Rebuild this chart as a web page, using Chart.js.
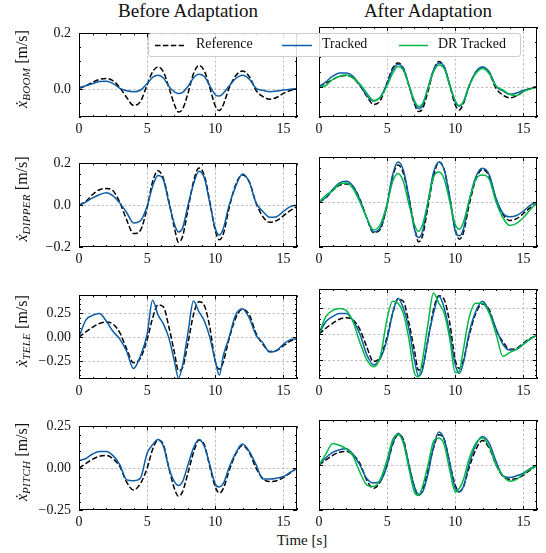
<!DOCTYPE html>
<html>
<head>
<meta charset="utf-8">
<script src="https://cdn.jsdelivr.net/npm/chart.js"></script>
<style>
  body { margin: 0; background: #fff; width: 546px; height: 553px; overflow: hidden; position: relative;
         font-family: "Liberation Serif", "DejaVu Serif", serif; color: #111; }
  canvas { position: absolute; }
  .title { position: absolute; top: 0; font-size: 19px; white-space: nowrap; transform: translateX(-50%); }
  .ylab { position: absolute; font-size: 16px; white-space: nowrap; transform: translate(-50%, -50%) rotate(-90deg); }
  .ylab sub { font-size: 11px; font-style: italic; vertical-align: -3px; letter-spacing: 0.3px; }
  #xlab { position: absolute; left: 302px; top: 532px; font-size: 15px; transform: translateX(-50%); }
  #legend { position: absolute; left: 148px; top: 33px; width: 371px; height: 22px; z-index: 5;
            border: 1px solid #ccc; border-radius: 3px; background: rgba(255,255,255,0.85); font-size: 14px; }
  #legend span { position: absolute; top: 2px; white-space: nowrap; }
  #legend svg { position: absolute; top: 10px; }
</style>
</head>
<body>
<div class="title" style="left:188px">Before Adaptation</div>
<div class="title" style="left:428px">After Adaptation</div>
<div id="xlab">Time [s]</div>
<div id="legend">
  <svg style="left:6px" width="29" height="3"><line x1="0" y1="1.5" x2="29" y2="1.5" stroke="#000" stroke-width="1.5" stroke-dasharray="5.5,2.4"/></svg>
  <span style="left:47px">Reference</span>
  <svg style="left:133px" width="30" height="3"><line x1="0" y1="1.5" x2="30" y2="1.5" stroke="#0C5DA5" stroke-width="1.5"/></svg>
  <span style="left:173px">Tracked</span>
  <svg style="left:250px" width="29" height="3"><line x1="0" y1="1.5" x2="29" y2="1.5" stroke="#00B945" stroke-width="1.5"/></svg>
  <span style="left:289px">DR Tracked</span>
</div>
<script>
// time axis (s), shared by every series
const time = [0, 0.5, 1, 1.5, 2, 2.5, 3, 3.5, 4, 4.5, 5, 5.4, 5.8, 6.2, 6.6, 7, 7.3, 7.6, 8, 8.4, 8.8, 9.2, 9.6, 10, 10.3, 10.6, 11, 11.5, 12, 12.5, 13, 13.5, 14, 14.5, 15, 15.5, 16];

// boom
const boomRef    = [0.003, 0.012, 0.025, 0.035, 0.038, 0.03, 0.005, -0.03, -0.058, -0.045, 0.015, 0.062, 0.08, 0.062, 0.005, -0.055, -0.082, -0.072, -0.015, 0.055, 0.085, 0.065, 0.005, -0.06, -0.077, -0.055, 0.002, 0.048, 0.065, 0.045, -0.005, -0.027, -0.036, -0.03, -0.015, -0.005, 0.002];
const boomBefore = [0.006, 0.012, 0.02, 0.027, 0.028, 0.02, 0.003, -0.006, -0.009, -0.004, 0.02, 0.042, 0.05, 0.04, 0.01, -0.01, -0.016, -0.012, 0.01, 0.04, 0.053, 0.045, 0.012, -0.02, -0.025, -0.014, 0.01, 0.038, 0.05, 0.036, 0.003, -0.004, -0.009, -0.007, -0.003, 0.0, 0.002];
const boomAfter  = [0, 0.017, 0.036, 0.047, 0.047, 0.036, 0.006, -0.028, -0.047, -0.033, 0.011, 0.056, 0.076, 0.061, 0.006, -0.05, -0.072, -0.061, -0.002, 0.056, 0.08, 0.067, 0.006, -0.05, -0.064, -0.05, 0, 0.05, 0.067, 0.05, 0.002, -0.013, -0.024, -0.02, -0.011, -0.006, 0];
const boomDR     = [0, 0.005, 0.025, 0.036, 0.04, 0.03, 0.01, -0.02, -0.045, -0.035, 0.005, 0.045, 0.068, 0.055, 0.005, -0.045, -0.065, -0.055, -0.005, 0.05, 0.073, 0.06, 0.005, -0.045, -0.062, -0.048, 0.002, 0.045, 0.062, 0.045, 0.003, -0.01, -0.025, -0.028, -0.015, -0.007, 0];

// dipper
const dipperRef    = [0, 0.018, 0.051, 0.074, 0.08, 0.069, 0.013, -0.07, -0.136, -0.121, -0.012, 0.112, 0.165, 0.127, 0.018, -0.107, -0.177, -0.15, -0.019, 0.112, 0.178, 0.142, 0.018, -0.121, -0.165, -0.136, -0.019, 0.098, 0.145, 0.112, 0.01, -0.055, -0.082, -0.074, -0.051, -0.026, -0.007];
const dipperBefore = [0, 0.015, 0.035, 0.05, 0.06, 0.045, 0.01, -0.035, -0.085, -0.075, -0.005, 0.09, 0.142, 0.12, 0.01, -0.09, -0.128, -0.11, 0.0, 0.1, 0.163, 0.13, 0.01, -0.11, -0.143, -0.11, -0.005, 0.09, 0.149, 0.11, 0.01, -0.03, -0.058, -0.055, -0.03, -0.007, 0];
const dipperAfter  = [0, 0.02, 0.055, 0.085, 0.092, 0.07, 0.01, -0.07, -0.133, -0.115, -0.01, 0.12, 0.178, 0.14, 0.02, -0.12, -0.158, -0.13, 0.0, 0.13, 0.178, 0.14, 0.02, -0.13, -0.15, -0.12, 0.0, 0.11, 0.15, 0.12, 0.015, -0.05, -0.066, -0.06, -0.04, -0.015, 0];
const dipperDR     = [0, 0.03, 0.05, 0.08, 0.085, 0.06, 0.0, -0.07, -0.124, -0.1, -0.01, 0.09, 0.127, 0.09, -0.01, -0.1, -0.131, -0.1, 0.0, 0.11, 0.133, 0.1, 0.0, -0.1, -0.121, -0.09, 0.0, 0.1, 0.12, 0.1, 0.0, -0.07, -0.104, -0.095, -0.07, -0.035, 0];

// tele
const teleRef    = [0, 0.056, 0.105, 0.144, 0.16, 0.137, 0.045, -0.124, -0.27, -0.222, -0.026, 0.2, 0.34, 0.317, 0.105, -0.157, -0.353, -0.32, -0.059, 0.235, 0.373, 0.333, 0.105, -0.255, -0.337, -0.255, -0.026, 0.2, 0.294, 0.235, 0.039, -0.075, -0.15, -0.14, -0.09, -0.042, -0.016];
const teleBefore = [0, 0.18, 0.23, 0.25, 0.17, 0.06, -0.02, -0.15, -0.33, -0.2, 0.03, 0.39, 0.235, 0.137, -0.01, -0.25, -0.43, -0.3, 0.05, 0.38, 0.27, 0.17, 0.0, -0.25, -0.4, -0.19, -0.01, 0.235, 0.3, 0.2, 0.02, -0.06, -0.157, -0.14, -0.075, -0.026, -0.016];
const teleAfter  = [0, 0.12, 0.17, 0.2, 0.2, 0.13, 0.0, -0.2, -0.3, -0.24, -0.05, 0.2, 0.35, 0.25, 0.05, -0.25, -0.41, -0.35, -0.05, 0.2, 0.37, 0.25, 0.0, -0.3, -0.385, -0.28, 0.0, 0.22, 0.32, 0.22, 0.05, -0.1, -0.157, -0.15, -0.1, -0.05, -0.01];
const teleDR     = [0, 0.17, 0.23, 0.25, 0.23, 0.12, -0.08, -0.25, -0.32, -0.22, 0.15, 0.32, 0.3, 0.2, -0.05, -0.38, -0.42, -0.25, 0.1, 0.4, 0.3, 0.2, -0.05, -0.38, -0.36, -0.15, 0.15, 0.3, 0.3, 0.2, 0.0, -0.22, -0.18, -0.15, -0.1, -0.05, -0.01];

// pitch
const pitchRef    = [0, 0.028, 0.054, 0.071, 0.076, 0.056, 0.009, -0.084, -0.13, -0.093, 0, 0.112, 0.168, 0.14, 0, -0.121, -0.168, -0.14, -0.028, 0.093, 0.168, 0.14, 0.009, -0.112, -0.149, -0.121, -0.019, 0.084, 0.136, 0.093, 0, -0.062, -0.08, -0.075, -0.056, -0.028, 0];
const pitchBefore = [0.045, 0.058, 0.085, 0.1, 0.1, 0.075, 0.02, -0.07, -0.075, -0.06, 0.09, 0.14, 0.172, 0.13, 0.0, -0.08, -0.103, -0.08, 0.02, 0.12, 0.172, 0.13, 0.02, -0.095, -0.112, -0.09, 0.0, 0.09, 0.144, 0.1, 0.02, -0.065, -0.065, -0.06, -0.05, -0.025, 0];
const pitchAfter  = [0, 0.04, 0.07, 0.085, 0.09, 0.06, 0.0, -0.075, -0.1, -0.09, 0.0, 0.12, 0.177, 0.13, 0.0, -0.12, -0.162, -0.15, -0.05, 0.1, 0.183, 0.14, 0.01, -0.13, -0.149, -0.12, 0.0, 0.11, 0.159, 0.12, 0.02, -0.06, -0.069, -0.06, -0.045, -0.02, 0];
const pitchDR     = [0, 0.06, 0.12, 0.11, 0.09, 0.05, -0.04, -0.11, -0.12, -0.08, 0.03, 0.14, 0.17, 0.12, -0.02, -0.15, -0.17, -0.12, 0.0, 0.13, 0.15, 0.11, -0.03, -0.15, -0.13, -0.08, 0.03, 0.12, 0.15, 0.1, 0.0, -0.06, -0.09, -0.08, -0.05, -0.025, 0];

// tick labels
const xTicks = [0, 5, 10, 15];
const boomTicks = [0, 0.2];
const dipperTicks = [-0.2, 0, 0.2];
const teleTicks = [-0.25, 0, 0.25];
const pitchTicks = [-0.25, 0, 0.25];

const FONT = '"Liberation Serif", "DejaVu Serif", serif';
const BLUE = '#0C5DA5', GREEN = '#00B945';

// layout of the 4x2 grid of panels
const plotLeft = [79, 319], plotW = 218, plotTop = [27, 157, 289, 420], plotH = 90;
const padL = 60, padT = 10, padR = 10, padB = 26;

// dashed grid under the lines, black frame and inward ticks over them
const framePlugin = {
    id: 'frame',
    beforeDatasetsDraw(chart) {
        const { ctx, chartArea: a, scales: { x, y } } = chart;
        ctx.save();
        ctx.strokeStyle = '#b0b0b0';
        ctx.lineWidth = 0.8;
        ctx.setLineDash([2.5, 2]);
        ctx.beginPath();
        x.ticks.forEach(t => {
            const p = Math.round(x.getPixelForValue(t.value)) + 0.5;
            if (p > a.left + 2 && p < a.right - 2) { ctx.moveTo(p, a.top); ctx.lineTo(p, a.bottom); }
        });
        y.ticks.forEach(t => {
            const p = Math.round(y.getPixelForValue(t.value)) + 0.5;
            if (p > a.top + 2 && p < a.bottom - 2) { ctx.moveTo(a.left, p); ctx.lineTo(a.right, p); }
        });
        ctx.stroke();
        ctx.restore();
    },
    afterDatasetsDraw(chart, args, opts) {
        const { ctx, chartArea: a, scales: { x, y } } = chart;
        ctx.save();
        ctx.strokeStyle = '#000';
        ctx.lineWidth = 1;
        ctx.setLineDash([]);
        ctx.beginPath();
        for (let k = Math.ceil(x.min / opts.xMinor - 1e-6); k * opts.xMinor <= x.max + 1e-6; k++) {
            const v = k * opts.xMinor;
            const len = x.ticks.some(t => Math.abs(t.value - v) < 1e-6) ? 4 : 2;
            const p = Math.round(x.getPixelForValue(v)) + 0.5;
            ctx.moveTo(p, a.bottom); ctx.lineTo(p, a.bottom - len);
            ctx.moveTo(p, a.top); ctx.lineTo(p, a.top + len);
        }
        for (let k = Math.ceil(y.min / opts.yMinor - 1e-6); k * opts.yMinor <= y.max + 1e-6; k++) {
            const v = k * opts.yMinor;
            const len = y.ticks.some(t => Math.abs(t.value - v) < 1e-6) ? 4 : 2;
            const p = Math.round(y.getPixelForValue(v)) + 0.5;
            ctx.moveTo(a.left, p); ctx.lineTo(a.left + len, p);
            ctx.moveTo(a.right, p); ctx.lineTo(a.right - len, p);
        }
        ctx.stroke();
        ctx.strokeRect(Math.round(a.left) + 0.5, Math.round(a.top) + 0.5, Math.round(a.right - a.left) - 1, Math.round(a.bottom - a.top) - 1);
        ctx.restore();
    }
};

function pts(vals) {
    return time.map((t, i) => ({ x: t, y: vals[i] }));
}

function fmt(v, dec) {
    const s = Math.abs(v).toFixed(dec);
    return v < -1e-9 ? '\u2212' + s : s;
}

function makePanel(row, col, series, yMin, yMax, yTicks, dec) {
    const cv = document.createElement('canvas');
    cv.width = plotW + padL + padR;
    cv.height = plotH + padT + padB;
    cv.style.left = (plotLeft[col] - padL) + 'px';
    cv.style.top = (plotTop[row] - padT) + 'px';
    document.body.appendChild(cv);

    const datasets = [
        { label: 'Reference', data: pts(series[0]), borderColor: '#000', borderDash: [5.5, 2.4], order: 3 },
        { label: 'Tracked', data: pts(series[1]), borderColor: BLUE, order: 2 }
    ];
    if (series[2]) datasets.push({ label: 'DR Tracked', data: pts(series[2]), borderColor: GREEN, order: 1 });

    new Chart(cv, {
        type: 'line',
        data: { datasets: datasets },
        options: {
            responsive: false,
            animation: false,
            devicePixelRatio: 1,
            layout: { padding: { left: 0, top: padT, right: padR, bottom: 0 } },
            elements: {
                point: { radius: 0 },
                line: { borderWidth: 1.5, cubicInterpolationMode: 'monotone', fill: false }
            },
            plugins: {
                legend: { display: false },
                tooltip: { enabled: false },
                frame: { xMinor: 1, yMinor: 0.05 }
            },
            scales: {
                x: {
                    type: 'linear', min: 0, max: 16,
                    afterBuildTicks: s => { s.ticks = xTicks.map(v => ({ value: v })); },
                    afterFit: s => { s.height = padB; },
                    grid: { display: false, drawTicks: false },
                    border: { display: false },
                    ticks: { autoSkip: false, maxRotation: 0, padding: 4, color: '#111',
                             font: { family: FONT, size: 14 }, callback: v => String(v) }
                },
                y: {
                    type: 'linear', min: yMin, max: yMax,
                    afterBuildTicks: s => { s.ticks = yTicks.map(v => ({ value: v })); },
                    afterFit: s => { s.width = padL; },
                    grid: { display: false, drawTicks: false },
                    border: { display: false },
                    ticks: { display: col === 0, autoSkip: false, padding: 8, color: '#111',
                             font: { family: FONT, size: 14 }, callback: v => fmt(v, dec) }
                }
            }
        },
        plugins: [framePlugin]
    });
}

function yLabel(row, name) {
    const d = document.createElement('div');
    d.className = 'ylab';
    d.innerHTML = '<i>\u1E8B</i><sub>' + name + '</sub> [m/s]';
    d.style.left = '22px';
    d.style.top = (plotTop[row] + plotH / 2 - 3) + 'px';
    document.body.appendChild(d);
}

makePanel(0, 0, [boomRef, boomBefore], -0.1, 0.2, boomTicks, 1);
makePanel(0, 1, [boomRef, boomAfter, boomDR], -0.1, 0.2, boomTicks, 1);
makePanel(1, 0, [dipperRef, dipperBefore], -0.2, 0.2, dipperTicks, 1);
makePanel(1, 1, [dipperRef, dipperAfter, dipperDR], -0.2, 0.2, dipperTicks, 1);
makePanel(2, 0, [teleRef, teleBefore], -0.44, 0.44, teleTicks, 2);
makePanel(2, 1, [teleRef, teleAfter, teleDR], -0.44, 0.44, teleTicks, 2);
makePanel(3, 0, [pitchRef, pitchBefore], -0.25, 0.25, pitchTicks, 2);
makePanel(3, 1, [pitchRef, pitchAfter, pitchDR], -0.25, 0.25, pitchTicks, 2);

yLabel(0, 'BOOM');
yLabel(1, 'DIPPER');
yLabel(2, 'TELE');
yLabel(3, 'PITCH');
</script>
</body>
</html>
